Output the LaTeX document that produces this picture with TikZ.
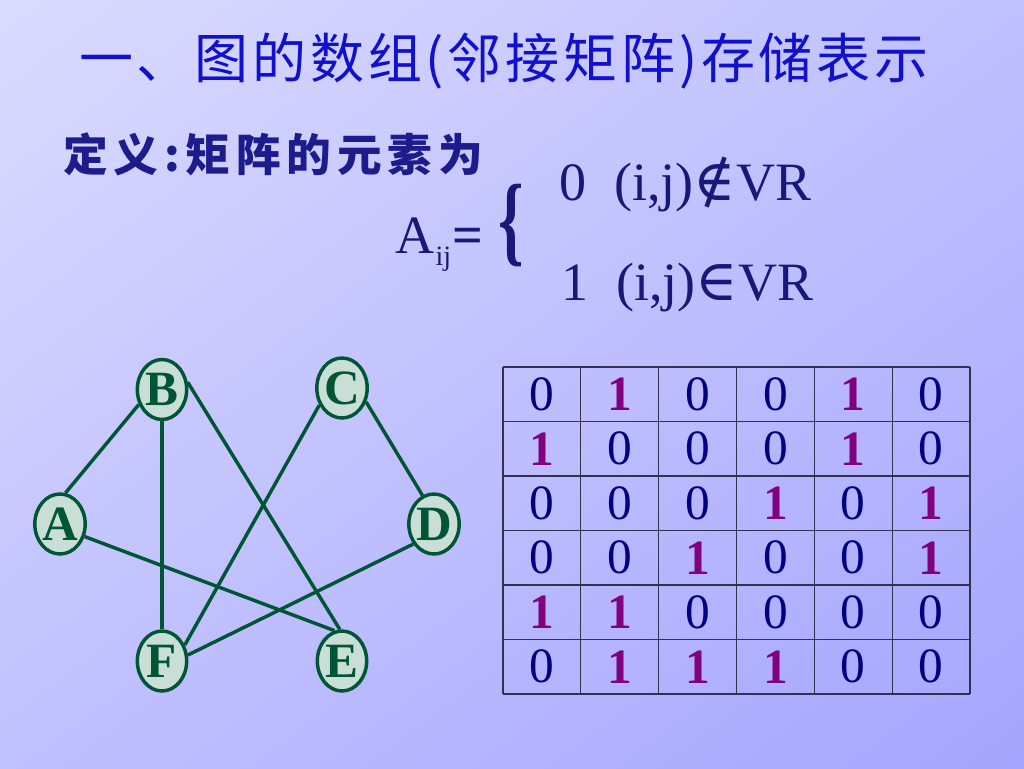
\documentclass[tikz,border=0pt]{standalone}
\usepackage{graphicx}
\usepackage{fontspec}
\setmainfont{Liberation Serif}
\newfontfamily\cjk[LetterSpace=7]{Noto Sans CJK SC}
\newfontfamily\cjksp[LetterSpace=13]{Noto Sans CJK SC}
\newfontfamily\symf{DejaVu Serif}
\usetikzlibrary{shapes.geometric}
\definecolor{bgul}{RGB}{230,230,254}
\definecolor{bgmid}{RGB}{192,192,255}
\definecolor{bglr}{RGB}{153,153,255}
\definecolor{titleblue}{RGB}{16,16,205}
\definecolor{subblue}{RGB}{28,28,140}
\definecolor{formnavy}{RGB}{24,24,120}
\definecolor{gdark}{RGB}{0,85,52}
\definecolor{gfill}{RGB}{200,222,215}
\definecolor{zeronavy}{RGB}{0,0,128}
\definecolor{onepurple}{RGB}{128,0,128}
\definecolor{gridc}{RGB}{50,50,80}
\pgfdeclarehorizontalshading{bgshade}{100bp}{color(0bp)=(bgul); color(50bp)=(bgmid); color(100bp)=(bglr)}
\newcommand\fsz[1]{\fontsize{#1}{#1}\selectfont}
\tikzset{
  vtx/.style={ellipse, draw=gdark, line width=2.6pt, fill=gfill,
    minimum width=37pt, minimum height=45pt, inner sep=0pt,
    text=gdark, font=\fsz{37}\bfseries},
  edge/.style={draw=gdark, line width=2.6pt},
  zero/.style={inner sep=0pt, text=zeronavy, font=\fsz{37}},
  one/.style={inner sep=0pt, text=onepurple, font=\fsz{37}\bfseries},
  gridline/.style={draw=gridc, line width=0.8pt}
}
\begin{document}
\begin{tikzpicture}[x=0.75pt,y=-0.75pt]
\useasboundingbox (0,0) rectangle (1024,768);
\shade[shading=bgshade, shading angle=-53] (0,0) rectangle (1024,768);

% title
\node[anchor=base west, inner sep=0pt, text=titleblue, font=\cjk\fsz{40.5}] (title) at (79,78) {一、图的数组(邻接矩阵)存储表示};
\node[anchor=base west, inner sep=0pt, text=subblue, font=\cjksp\bfseries\fsz{33.5}] (sub) at (63,171) {定义:矩阵的元素为};

% formula
\node[anchor=base west, inner sep=0pt, text=formnavy, font=\fsz{40.5}] (aij) at (395,253) {A\kern1pt\raisebox{-9pt}{\fsz{21}ij}\kern1pt\textbf{=}};
\node[inner sep=0pt, text=formnavy, font=\fsz{40.5}\bfseries] (brace) at (511,226) {\scalebox{1.2}[1.85]{\{}};
\node[anchor=base west, inner sep=0pt, text=formnavy, font=\fsz{40.5}] (row0) at (559,200) {0\hspace{21pt}(i,j){\symf\fsz{43}∉}VR};
\node[anchor=base west, inner sep=0pt, text=formnavy, font=\fsz{40.5}] (row1) at (561,300) {1\hspace{21pt}(i,j){\symf\fsz{43}∈}VR};

% graph
\node[vtx] (B) at (162,389.5) {B};
\node[vtx] (C) at (342,388) {C};
\node[vtx] (A) at (60,524) {A};
\node[vtx] (D) at (434,524) {D};
\node[vtx] (F) at (162,661) {F};
\node[vtx] (E) at (342,661) {E};
\draw[edge] (A.80) -- (B.213);
\draw[edge] (B.270) -- (F.90);
\draw[edge] (B.16) -- (E.94);
\draw[edge] (C.217) -- (F.35);
\draw[edge] (C.330) -- (D.112);
\draw[edge] (A.333) -- (E.104);
\draw[edge] (D.224) -- (F.13);

% matrix grid
\foreach \i in {0,...,6} {
  \draw[gridline] ({503+\i*77.83},367) -- ({503+\i*77.83},694);
  \draw[gridline] (503,{367+\i*54.5}) -- (970,{367+\i*54.5});
}
\foreach \row [count=\r from 0] in {{0,1,0,0,1,0},{1,0,0,0,1,0},{0,0,0,1,0,1},{0,0,1,0,0,1},{1,1,0,0,0,0},{0,1,1,1,0,0}} {
  \foreach \v [count=\c from 0] in \row {
    \ifnum\v=1
      \node[one] (m\r\c) at ({542+\c*77.83},{394.25+\r*54.5}) {1};
    \else
      \node[zero] (m\r\c) at ({542+\c*77.83},{394.25+\r*54.5}) {0};
    \fi
  }
}
\end{tikzpicture}
\end{document}
